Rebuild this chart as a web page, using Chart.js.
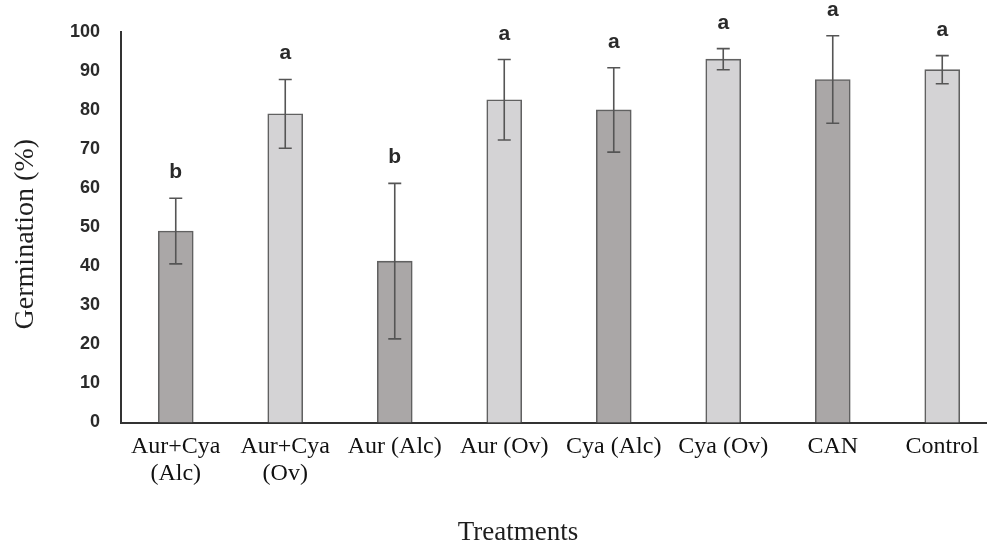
<!DOCTYPE html>
<html><head><meta charset="utf-8">
<script src="https://cdn.jsdelivr.net/npm/chart.js@4.4.1/dist/chart.umd.min.js"></script>
<style>
html,body{margin:0;padding:0;background:#fff;overflow:hidden;width:987px;height:542px}
#wrap{position:absolute;left:0;top:0;width:1000px;height:542px}
canvas{display:block}
</style>
</head><body>
<div id="wrap"><canvas id="c" width="1000" height="542" style="width:1000px;height:542px"></canvas></div>
<script>
// ---- data ----
const categories = [["Aur+Cya","(Alc)"],["Aur+Cya","(Ov)"],"Aur (Alc)","Aur (Ov)","Cya (Alc)","Cya (Ov)","CAN","Control"];
const germination = [49, 79, 41.3, 82.6, 80, 93, 87.8, 90.3];
const errors = [8.4, 8.8, 19.9, 10.3, 10.8, 2.7, 11.2, 3.6];
const letters = ["b","a","b","a","a","a","a","a"];
const xTitle = "Treatments";
const yTitle = "Germination (%)";
const yMin = 0, yMax = 100, yStep = 10;

// ---- styles ----
const DARK = "#aaa7a7", LIGHT = "#d4d3d5";
const SERIF = "'Liberation Serif', 'Times New Roman', serif";
const SANS = "'Liberation Sans', Arial, sans-serif";

const annotatePlugin = {
  id: "annotate",
  afterDatasetsDraw(chart) {
    const ctx = chart.ctx, y = chart.scales.y;
    const meta = chart.getDatasetMeta(0);
    ctx.save();
    ctx.strokeStyle = "#555";
    ctx.lineWidth = 1.6;
    meta.data.forEach((bar, i) => {
      const v = germination[i], e = errors[i];
      const yt = y.getPixelForValue(v + e), yb = y.getPixelForValue(v - e);
      const x = bar.x, cap = 6.5;
      ctx.beginPath();
      ctx.moveTo(x, yt); ctx.lineTo(x, yb);
      ctx.moveTo(x - cap, yt); ctx.lineTo(x + cap, yt);
      ctx.moveTo(x - cap, yb); ctx.lineTo(x + cap, yb);
      ctx.stroke();
    });
    ctx.fillStyle = "#2a2a2a";
    ctx.font = "bold 21px " + SANS;
    ctx.textAlign = "center";
    ctx.textBaseline = "alphabetic";
    meta.data.forEach((bar, i) => {
      const yt = y.getPixelForValue(germination[i] + errors[i]);
      ctx.fillText(letters[i], bar.x, yt - 20);
    });
    ctx.restore();
  },
  afterDraw(chart) {
    // axis titles
    const ctx = chart.ctx, a = chart.chartArea;
    ctx.save();
    ctx.fillStyle = "#1e1e1e";
    ctx.textAlign = "center";
    ctx.textBaseline = "alphabetic";
    ctx.font = "27px " + SERIF;
    ctx.fillText(xTitle, a.left + 397, chart.height - 2);
    ctx.translate(33, (a.top + a.bottom) / 2 + 7);
    ctx.rotate(-Math.PI / 2);
    ctx.font = "28px " + SERIF;
    ctx.fillText(yTitle, 0, 0);
    ctx.restore();
  }
};

new Chart(document.getElementById("c"), {
  type: "bar",
  data: {
    labels: categories,
    datasets: [{
      data: germination,
      backgroundColor: (c) => (c.dataIndex % 2 === 0 ? DARK : LIGHT),
      borderColor: "#616161",
      borderWidth: 1.6,
      borderSkipped: "bottom",
      barThickness: 35
    }]
  },
  options: {
    responsive: false,
    animation: false,
    devicePixelRatio: 1,
    layout: { padding: { top: 27, right: 3, left: 0, bottom: 0 } },
    plugins: { legend: { display: false }, tooltip: { enabled: false } },
    scales: {
      x: {
        offset: true,
        grid: { display: false, drawTicks: false },
        border: { color: "#333", width: 2 },
        ticks: {
          autoSkip: false, maxRotation: 0, minRotation: 0, padding: 10,
          color: "#111",
          font: { family: SERIF, size: 24, lineHeight: 1.15 }
        },
        afterFit(scale) { scale.height = 119.5; }
      },
      y: {
        min: yMin, max: yMax,
        grid: { display: false, drawTicks: false },
        border: { color: "#333", width: 2 },
        ticks: {
          stepSize: yStep, padding: 21, color: "#2a2a2a",
          font: { family: SANS, size: 18, weight: "bold" }
        },
        afterFit(scale) { scale.width = 121; }
      }
    }
  },
  plugins: [annotatePlugin]
});
</script>
</body></html>
